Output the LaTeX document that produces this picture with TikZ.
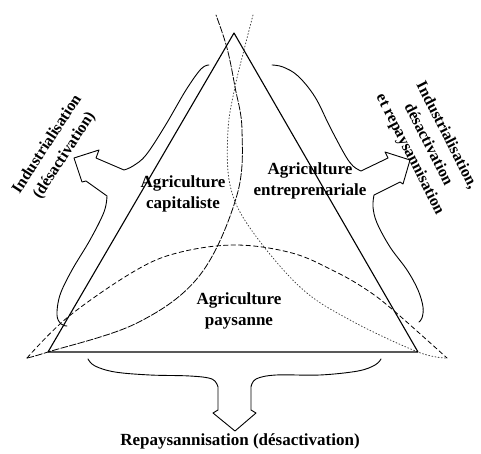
\documentclass[tikz,border=0pt]{standalone}
\usepackage{fontspec}
\setmainfont{Liberation Serif}
\begin{document}
\begin{tikzpicture}[x=1pt,y=-1pt,line cap=round,line join=round,
  edge/.style={line width=1.1pt},
  capline/.style={line width=0.8pt,dash pattern=on 7pt off 1.8pt},
  entline/.style={line width=0.8pt,black!75,dash pattern=on 1pt off 2.2pt},
  payline/.style={line width=0.8pt,dash pattern=on 4.5pt off 3pt},
  brace/.style={line width=0.9pt},
  lbl/.style={font=\bfseries\fontsize{17}{21}\selectfont,align=center,inner sep=0pt},
  lblside/.style={font=\bfseries\fontsize{16}{20.5}\selectfont,align=center,inner sep=0pt}]
\useasboundingbox (0,0) rectangle (481,454);

% corners of the triangle
\coordinate (apex) at (234,33);
\coordinate (lv) at (48,352);
\coordinate (rv) at (418,352);

% boundaries of the three forms of agriculture
\draw[capline] plot[smooth,tension=0.6] coordinates
  {(27,358) (48,352) (137,323) (200,275) (237,195) (242,130) (235,87) (227,48) (216,15)};
\draw[entline] plot[smooth,tension=0.6] coordinates
  {(253,15) (244,50) (235,87) (228,130) (230,185) (250,228) (300,287) (350,320) (418,352) (447,358)};
\draw[payline] plot[smooth,tension=0.6] coordinates
  {(27,358) (68,317) (133,272) (177,253) (235,245) (292,253) (336,272) (367,290) (393,310) (447,358)};

% the triangle
\draw[edge] (apex) -- (lv) -- (rv) -- cycle;

% left brace with its arrow
\coordinate (tipL) at (74,158);
\draw[brace] plot[smooth,tension=0.6] coordinates
  {(209,65) (201,69) (186,90) (165,126) (146,155) (133,166) (124,170)}
  -- (96,158) -- (99,150) -- (tipL) -- (82,182) -- (86,181)
  -- plot[smooth,tension=0.6] coordinates
  {(107,196) (104,212) (90,240) (72,270) (60,295) (57,315) (61,324) (67,326)};

% right brace with its arrow
\coordinate (tipR) at (410,160);
\draw[brace] plot[smooth,tension=0.6] coordinates
  {(272,65) (283,67) (298,76) (315,97) (330,127) (345,155) (353,166) (361,171)}
  -- (388,158) -- (385,152) -- (tipR) -- (403,184) -- (400,182)
  -- plot[smooth,tension=0.6] coordinates
  {(374,195) (373,207) (377,223) (390,247) (407,270) (418,290) (423,307) (422,318) (419,322)};

% bottom brace with its arrow
\coordinate (tipB) at (235,431);
\draw[brace] plot[smooth,tension=0.6] coordinates
  {(88,359) (95,366) (115,372) (150,375) (190,376) (212,379) (218,387)}
  -- (218,410) -- (213,413) -- (tipB) -- (256,413) -- (251,410) -- (251,387)
  -- plot[smooth,tension=0.6] coordinates
  {(251,387) (256,379) (276,375) (320,375) (358,371) (375,365) (381,359)};

% labels
\node[lbl] (cap) at (183,194) {Agriculture\\capitaliste};
\node[lbl] (ent) at (310,181) {Agriculture\\entreprenariale};
\node[lbl] (pay) at (239,311) {Agriculture\\paysanne};
\node[lbl] (rep) at (240,441) {Repaysannisation (désactivation)};
\node[lblside,rotate=57] (indL) at (56,150) {Industrialisation\\(désactivation)};
\node[lblside,rotate=-63] (indR) at (428,145) {Industrialisation,\\désactivation\\et repaysannisation};
\end{tikzpicture}
\end{document}
